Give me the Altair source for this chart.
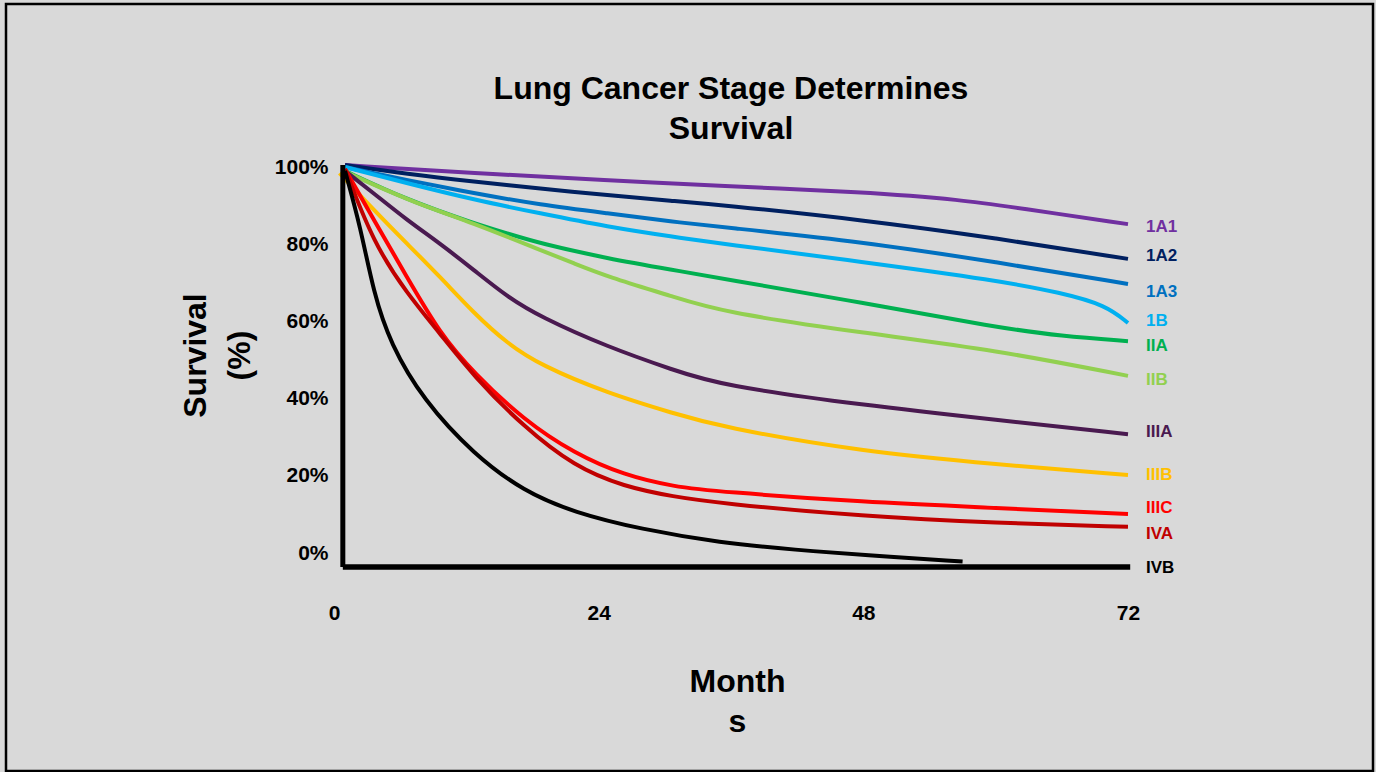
import altair as alt
import pandas as pd

# Stage names and their line colours
stages = ["1A1", "1A2", "1A3", "1B", "IIA", "IIB", "IIIA", "IIIB", "IIIC", "IVA", "IVB"]
colors = ["#7030a0", "#002060", "#0070c0", "#00b0f0", "#00b050", "#92d050",
          "#4a1a50", "#ffc000", "#ff0000", "#c00000", "#000000"]

# Survival curves: months and survival (%) for each stage
m_1A1 = [1, 12.7, 24.8, 35, 48, 57, 62, 72]
s_1A1 = [100.5, 98.4, 96.6, 95.1, 93.5, 91.5, 89.4, 85.2]

m_1A2 = [1, 6.6, 12.7, 18.7, 24.8, 30.8, 35, 48, 60, 72]
s_1A2 = [100.5, 98.2, 96.2, 94.4, 92.7, 91.2, 90.2, 86.3, 81.6, 76.2]

m_1A3 = [1, 6.6, 12.7, 18.7, 24.8, 30.8, 35, 48, 60, 72]
s_1A3 = [100, 96.6, 93.2, 90.2, 88, 85.8, 84.5, 80.6, 75.4, 69.7]

m_1B = [1, 6.6, 12.7, 18.7, 24.8, 30.8, 35, 48, 60, 66, 70, 72]
s_1B = [100, 95.8, 91.5, 88, 84.5, 81.9, 80.2, 75.4, 70.7, 67.4, 64.2, 59.6]

m_IIA = [1, 6.6, 12.7, 15.7, 18.7, 24.8, 30.8, 35, 48, 60, 66, 72]
s_IIA = [99, 91.5, 85.4, 82.8, 80.2, 76.3, 73.3, 71.2, 64.8, 58.5, 56.2, 54.9]

m_IIB = [1, 6.6, 12.7, 18.7, 21.8, 24.8, 30.8, 35, 48, 60, 72]
s_IIB = [98.8, 91.5, 85.4, 78.5, 75, 71.6, 66.4, 62.5, 57, 52.6, 45.9]

m_IIIA = [1, 3.6, 6.6, 9.6, 12.7, 15.7, 18.7, 24.8, 30.8, 35, 48, 60, 72]
s_IIIA = [99, 93.2, 86.3, 80.2, 73.3, 66.4, 61.2, 53.4, 47.4, 43.5, 38.3, 34.5, 30.8]

m_IIIB = [0.5, 3.6, 6.6, 9.6, 12.7, 15.7, 18.7, 24.8, 30.8, 35, 48, 60, 72]
s_IIIB = [98.4, 88.9, 80.2, 71.6, 62.1, 54.3, 48.7, 41.4, 36.2, 32.7, 26.2, 23, 20.2]

m_IIIC = [1, 3.6, 6.6, 9.6, 12.7, 17.2, 21.8, 26.3, 30.8, 35, 48, 60, 72]
s_IIIC = [99.5, 86.3, 71.6, 56.9, 46.6, 34.5, 25.8, 20.2, 17.2, 15.9, 13.2, 11.7, 10.1]

m_IVA = [1, 3.6, 6.6, 9.6, 12.7, 17.2, 21.8, 26.3, 30.8, 35, 48, 60, 72]
s_IVA = [99.5, 80.2, 67.3, 56.9, 45.7, 32.7, 22.4, 17.2, 14.6, 12.9, 9.5, 7.8, 6.8]

m_IVB = [1, 2.4, 3.6, 5.1, 8.1, 12.7, 17.2, 21.8, 27.8, 35, 42, 48, 57]
s_IVB = [99, 84.5, 67.3, 54.3, 39.6, 25.5, 16.0, 10.5, 6.2, 2.7, 0.8, -0.5, -2.2]

# Where each stage name sits at the right-hand end (survival %)
label_pct = [84.5, 76.9, 67.7, 60.1, 53.7, 44.8, 31.4, 20.2, 11.6, 4.9, -3.9]
label_month = 72

# Axis ticks and hand-drawn axis lines
x_ticks = [0, 24, 48, 72]
y_ticks = [0, 20, 40, 60, 80, 100]
x_domain = [0, 72]
y_domain = [-3.6, 100]
axis_month = [0.8, 72.2]
axis_pct = [-3.6, 100.5]

series = {
    "1A1": (m_1A1, s_1A1), "1A2": (m_1A2, s_1A2), "1A3": (m_1A3, s_1A3),
    "1B": (m_1B, s_1B), "IIA": (m_IIA, s_IIA), "IIB": (m_IIB, s_IIB),
    "IIIA": (m_IIIA, s_IIIA), "IIIB": (m_IIIB, s_IIIB), "IIIC": (m_IIIC, s_IIIC),
    "IVA": (m_IVA, s_IVA), "IVB": (m_IVB, s_IVB),
}
rows = []
for st, (ms, ss) in series.items():
    for m, s in zip(ms, ss):
        rows.append({"stage": st, "month": m, "pct": s})
curves = pd.DataFrame(rows)
labels = pd.DataFrame({"stage": stages, "month": label_month, "pct": label_pct})

FONT = "Liberation Sans"
W, H = 794, 400

xs = alt.Scale(domain=x_domain, nice=False, zero=False)
ys = alt.Scale(domain=y_domain, nice=False, zero=False)
cs = alt.Scale(domain=stages, range=colors)

lines = alt.Chart(curves).mark_line(interpolate="basis", strokeWidth=4).encode(
    x=alt.X("month:Q", scale=xs,
            axis=alt.Axis(values=x_ticks, domain=False, ticks=False, grid=False,
                          labelFlush=False, labelFont=FONT, labelFontSize=21,
                          labelFontWeight="bold", labelColor="black",
                          labelBaseline="top", labelPadding=35,
                          title=["Month", "s"], titleFont=FONT, titleFontSize=32,
                          titleFontWeight="bold", titleColor="black",
                          titleLineHeight=40, titleBaseline="top",
                          titleAlign="center", titleX=403, titleY=99)),
    y=alt.Y("pct:Q", scale=ys,
            axis=alt.Axis(values=y_ticks, domain=False, ticks=False, grid=False,
                          labelExpr="datum.value + '%'", labelFont=FONT,
                          labelFontSize=21, labelFontWeight="bold",
                          labelColor="black", labelPadding=6,
                          title=["Survival", "(%)"], titleFont=FONT,
                          titleFontSize=32, titleFontWeight="bold",
                          titleColor="black", titleAngle=270,
                          titleLineHeight=44, titleBaseline="top",
                          titleAlign="center", titleX=-154, titleY=188)),
    color=alt.Color("stage:N", scale=cs, legend=None),
    detail="stage:N",
)

stage_text = alt.Chart(labels).mark_text(
    align="left", baseline="middle", dx=18, font=FONT, fontSize=17, fontWeight="bold"
).encode(
    x=alt.X("month:Q", scale=xs),
    y=alt.Y("pct:Q", scale=ys),
    text="stage:N",
    color=alt.Color("stage:N", scale=cs, legend=None),
)

axis_df = pd.DataFrame({"m0": [axis_month[0]], "m1": [axis_month[1]],
                        "p0": [axis_pct[0]], "p1": [axis_pct[1]]})
y_line = alt.Chart(axis_df).mark_rule(color="black", strokeWidth=5).encode(
    x=alt.X("m0:Q", scale=xs), y=alt.Y("p0:Q", scale=ys), y2="p1:Q")
x_line = alt.Chart(axis_df).mark_rule(color="black", strokeWidth=5.5).encode(
    x=alt.X("m0:Q", scale=xs), x2="m1:Q", y=alt.Y("p0:Q", scale=ys))

# Frame around the whole figure
frame = alt.Chart(pd.DataFrame({"k": [0]})).mark_rect(
    fillOpacity=0, stroke="black", strokeWidth=2.5
).encode(x=alt.value(-328), x2=alt.value(1039), y=alt.value(-163), y2=alt.value(604))

chart = alt.layer(frame, lines, y_line, x_line, stage_text).properties(
    width=W, height=H,
    title=alt.TitleParams(["Lung Cancer Stage Determines", "Survival"],
                          font=FONT, fontSize=32, fontWeight="bold", color="black",
                          anchor="middle", frame="group", lineHeight=40,
                          baseline="alphabetic", offset=0, dy=168),
    autosize=alt.AutoSizeParams(type="none"),
    padding={"left": 334, "top": 167, "right": 248, "bottom": 205},
    background="#d9d9d9",
).configure_view(stroke=None)

chart.save("out.html", embed_options={"renderer": "svg", "actions": False})
